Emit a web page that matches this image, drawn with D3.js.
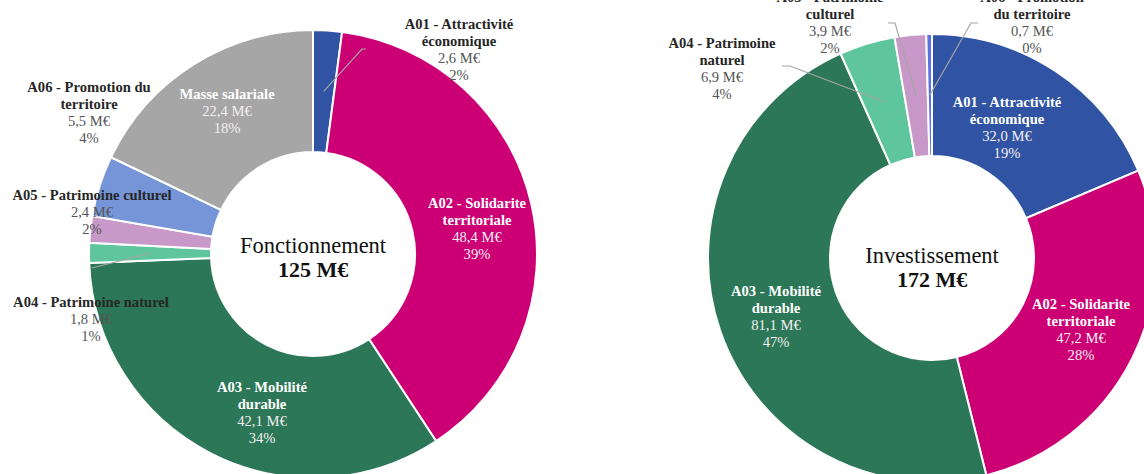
<!DOCTYPE html>
<html>
<head>
<meta charset="utf-8">
<script src="https://cdn.jsdelivr.net/npm/d3@7"></script>
<style>
	body { margin: 0; background: #fff; }
	svg { display: block; font-family: 'Liberation Serif', 'DejaVu Serif', serif; }
</style>
</head>
<body>
<div class="container"></div>
<script>
// data
var fonctCategories = ['A01', 'A02', 'A03', 'A04', 'A05', 'A06', 'MS'];
var fonctTitles = [
	['A01 - Attractivité', 'économique'],
	['A02 - Solidarite', 'territoriale'],
	['A03 - Mobilité', 'durable'],
	['A04 - Patrimoine naturel'],
	['A05 - Patrimoine culturel'],
	['A06 - Promotion du', 'territoire'],
	['Masse salariale']
];
var fonctValues = [2.6, 48.4, 42.1, 1.8, 2.4, 5.5, 22.4];
var fonctPercents = ['2%', '39%', '34%', '1%', '2%', '4%', '18%'];

var investCategories = ['A01', 'A02', 'A03', 'A04', 'A05', 'A06'];
var investTitles = [
	['A01 - Attractivité', 'économique'],
	['A02 - Solidarite', 'territoriale'],
	['A03 - Mobilité', 'durable'],
	['A04 - Patrimoine', 'naturel'],
	['A05 - Patrimoine', 'culturel'],
	['A06 - Promotion', 'du territoire']
];
var investValues = [32.0, 47.2, 81.1, 6.9, 3.9, 0.7];
var investPercents = ['19%', '28%', '47%', '4%', '2%', '0%'];

var centerTitles = ['Fonctionnement', 'Investissement'];
var centerTotals = ['125 M€', '172 M€'];

// styles
var colors = {
	A01: '#3054a3',
	A02: '#cc0074',
	A03: '#2b7757',
	A04: '#5fc59d',
	A05: '#c899c8',
	A06: '#7595d8',
	MS: '#a6a6a6'
};
var investColors = Object.assign({}, colors, { A06: '#5b72e6' });

// label layout (offsets from chart centre): x, y of first line, inside or not, leader points
var fonctLabels = {
	A01: { x: 146, y: -230, inside: false, leader: [[49, -205], [53, -205]] },
	A02: { x: 164, y: -51, inside: true },
	A03: { x: -51, y: 133, inside: true },
	A04: { x: -222, y: 48, inside: false, leader: [[-221, 14]] },
	A05: { x: -221, y: -59, inside: false },
	A06: { x: -224, y: -167, inside: false },
	MS: { x: -86, y: -160, inside: true }
};
var investLabels = {
	A01: { x: 75, y: -156, inside: true },
	A02: { x: 149, y: 46, inside: true },
	A03: { x: -156, y: 33, inside: true },
	A04: { x: -210, y: -215, inside: false, leader: [[-142, -192], [-150, -192]] },
	A05: { x: -102, y: -261, inside: false, leader: [[-37, -235], [-44, -235]] },
	A06: { x: 100, y: -261, inside: false, leader: [[39, -235], [46, -235]] }
};

var outerR = 224;
var innerR = 102;
var lineH = 17;

var fr = d3.formatLocale({ decimal: ',', thousands: ' ', grouping: [3], currency: ['', ' M€'] });
var fmt = fr.format('.1f');

var svg = d3
	.select('.container')
	.append('svg')
	.attr('width', 1144)
	.attr('height', 474);

var arc = d3.arc().innerRadius(innerR).outerRadius(outerR);
var pie = d3
	.pie()
	.sort(null)
	.value(function(d) {
		return d.value;
	});

function drawDonut(cx, cy, cats, titles, values, percents, cols, layout, title, total, titleY) {
	var rows = cats.map(function(c, i) {
		return { cat: c, title: titles[i], value: values[i], pct: percents[i] };
	});
	var g = svg.append('g').attr('transform', 'translate(' + cx + ',' + cy + ')');

	g.append('g')
		.selectAll('path')
		.data(pie(rows))
		.enter()
		.append('path')
		.attr('d', arc)
		.attr('fill', function(d) {
			return cols[d.data.cat];
		})
		.attr('stroke', '#fff')
		.attr('stroke-width', 2);

	// leader lines
	pie(rows).forEach(function(d) {
		var lay = layout[d.data.cat];
		if (!lay.leader) return;
		var mid = (d.startAngle + d.endAngle) / 2;
		var start = [Math.sin(mid) * 163, -Math.cos(mid) * 163];
		var pts = [start].concat(lay.leader);
		g.append('path')
			.attr('d', d3.line()(pts))
			.attr('fill', 'none')
			.attr('stroke', '#a6a6a6')
			.attr('stroke-width', 1.2);
	});

	// labels
	rows.forEach(function(r) {
		var lay = layout[r.cat];
		var t = g
			.append('text')
			.attr('text-anchor', 'middle')
			.attr('font-size', 14.6);
		var lines = r.title
			.map(function(s) {
				return { s: s, bold: true };
			})
			.concat([{ s: fmt(r.value) + ' M€', bold: false }, { s: r.pct, bold: false }]);
		lines.forEach(function(l, i) {
			t.append('tspan')
				.attr('x', lay.x)
				.attr('y', lay.y + i * lineH)
				.attr('dy', '0.35em')
				.attr('font-weight', l.bold ? 'bold' : 'normal')
				.attr('fill', lay.inside ? (l.bold ? '#ffffff' : '#f4eef2') : l.bold ? '#262626' : '#555555')
				.text(l.s);
		});
	});

	// centre
	g.append('text')
		.attr('text-anchor', 'middle')
		.attr('y', titleY)
		.attr('dy', '0.35em')
		.attr('font-size', 22.5)
		.attr('fill', '#111')
		.text(title);
	g.append('text')
		.attr('text-anchor', 'middle')
		.attr('y', titleY + 24)
		.attr('dy', '0.35em')
		.attr('font-size', 22)
		.attr('font-weight', 'bold')
		.attr('fill', '#111')
		.text(total);
}

drawDonut(313, 254, fonctCategories, fonctTitles, fonctValues, fonctPercents, colors, fonctLabels, centerTitles[0], centerTotals[0], -9);
drawDonut(932, 258, investCategories, investTitles, investValues, investPercents, investColors, investLabels, centerTitles[1], centerTotals[1], -3);
</script>
</body>
</html>
